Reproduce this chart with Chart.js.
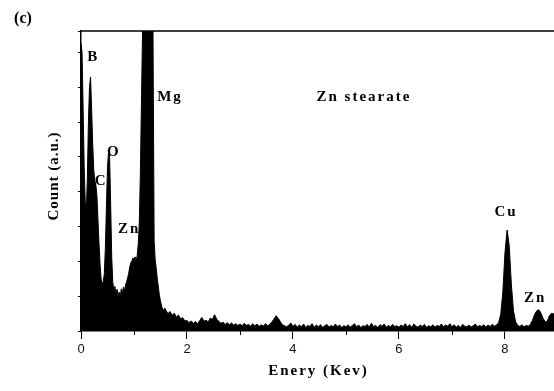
<!DOCTYPE html>
<html>
<head>
<meta charset="utf-8">
<script src="https://cdn.jsdelivr.net/npm/chart.js@4/dist/chart.umd.min.js"></script>
<style>
  html, body { margin: 0; padding: 0; background: #fff; }
  #wrap { width: 554px; height: 391px; position: relative; }
</style>
</head>
<body>
<div id="wrap"><canvas id="eds"></canvas></div>
<script>
/* ── Data ─────────────────────────────────────────────────────────────── */
// low-energy part, 0.00 … 1.58 keV every 0.02 keV
const lowStart = 0.0;
const lowStep  = 0.02;
const lowCounts = [
  826, 800, 640, 470, 370, 345, 440, 600, 700, 730,   // 0.00-0.18
  640, 540, 465, 432, 420, 390, 320, 250, 190, 150,   // 0.20-0.38
  135, 142, 165, 240, 360, 470, 515, 500, 360, 210,   // 0.40-0.58
  140, 115, 128, 104, 120,  98, 112,  96, 121, 106,   // 0.60-0.78
  126, 114, 132, 141, 152, 166, 184, 196, 201, 210,   // 0.80-0.98
  204, 213, 200, 216, 250, 310, 450, 650, 850, 1200,  // 1.00-1.18
  1800, 2400, 2800, 2900, 2800, 2500, 2100, 1500, 820, 260, // 1.20-1.38
  205, 178, 150, 126, 102,  86,  72,  63,  58,  66    // 1.40-1.58
];

// rest of the spectrum, 1.60 … 8.96 keV every 0.04 keV
const highStart = 1.60;
const highStep  = 0.04;
const highCounts = [
  60, 50, 56, 45, 51, 40, 46, 35, 38, 29,                                         // 1.60-1.96
  30, 24, 29, 22, 27, 21, 30, 39, 28, 31, 26, 37, 33, 47, 34, 28, 22, 25, 19, 24, 18, 23, 17, 21, 16, // 2.00-2.96
  20, 15, 22, 16, 19, 14, 21, 15, 20, 13, 18, 14, 21, 15, 19, 26, 34, 44, 37, 27, 18, 15, 12, 17, 23, // 3.00-3.96
  13, 19, 11, 17, 12, 20, 10, 16, 13, 21, 11, 17, 12, 18, 10, 15, 19, 11, 16, 12, 20, 13, 17, 10, 15, // 4.00-4.96
  12, 18, 11, 16, 21, 12, 17, 10, 15, 13, 19, 11, 22, 13, 16, 10, 18, 14, 20, 11, 16, 12, 19, 13, 15, // 5.00-5.96
  11, 17, 13, 21, 12, 18, 10, 20, 14, 11, 17, 13, 19, 10, 15, 12, 18, 11, 16, 13, 20, 12, 17, 14, 21, // 6.00-6.96
  12, 18, 11, 16, 10, 19, 14, 12, 17, 11, 15, 20, 12, 16, 13, 18, 11, 17, 13, 19, 14, 17, 24, 48, 112, // 7.00-7.96
  225, 290, 245, 135, 58, 27, 16, 13, 18, 12, 16, 14, 19, 31, 48, 58, 61, 51, 36, 26, 29, 44, 51, 49, 46 // 8.00-8.96
];

const xMax = 8.925;
const yMax = 862;
const xTicks = [0, 2, 4, 6, 8];
const minorTicks = [1, 3, 5, 7];

const peakNames    = ['B', 'C', 'O', 'Zn', 'Mg', 'Zn stearate', 'Cu', 'Zn'];
const peakEnergies = [0.21, 0.36, 0.60, 0.89, 1.66, 5.32, 8.00, 8.55];
const peakCounts   = [787, 431, 514, 293, 672, 672, 342, 95];

/* ── Build points ─────────────────────────────────────────────────────── */
const points = [];
lowCounts.forEach((c, i) => points.push({ x: +(lowStart + i * lowStep).toFixed(2), y: c }));
highCounts.forEach((c, i) => points.push({ x: +(highStart + i * highStep).toFixed(2), y: c }));

const serif = '"Liberation Serif", "Times New Roman", serif';

/* ── Extra drawing: frame top, minor ticks, labels ───────────────────── */
const decorPlugin = {
  id: 'decor',
  afterDraw(chart) {
    const { ctx, chartArea, scales: { x, y } } = chart;
    ctx.save();
    ctx.strokeStyle = '#000';
    ctx.lineWidth = 1.5;
    ctx.beginPath();
    ctx.moveTo(chartArea.left, chartArea.top);
    ctx.lineTo(chartArea.right, chartArea.top);
    ctx.stroke();

    ctx.lineWidth = 1;
    ctx.beginPath();
    minorTicks.forEach(v => {
      const px = Math.round(x.getPixelForValue(v)) + 0.5;
      ctx.moveTo(px, chartArea.bottom);
      ctx.lineTo(px, chartArea.bottom + 4);
    });
    ctx.stroke();

    ctx.fillStyle = '#000';
    ctx.textAlign = 'center';
    ctx.textBaseline = 'middle';
    ctx.font = 'bold 15px ' + serif;
    ctx.letterSpacing = '2px';
    peakNames.forEach((t, i) => {
      ctx.fillText(t, x.getPixelForValue(peakEnergies[i]) + 1, y.getPixelForValue(peakCounts[i]));
    });

    // axis titles
    ctx.fillText('Enery (Kev)', (chartArea.left + chartArea.right) / 2 + 1, 371);
    ctx.letterSpacing = '1px';
    ctx.save();
    ctx.translate(54, 176);
    ctx.rotate(-Math.PI / 2);
    ctx.fillText('Count (a.u.)', 0, 0);
    ctx.restore();

    ctx.letterSpacing = '0px';
    ctx.font = 'bold 16px ' + serif;
    ctx.fillText('(c)', 23, 19);
    ctx.restore();
  }
};

/* ── Chart ────────────────────────────────────────────────────────────── */
new Chart(document.getElementById('eds'), {
  type: 'line',
  data: {
    datasets: [{
      data: points,
      borderColor: '#000',
      backgroundColor: '#000',
      borderWidth: 1,
      pointRadius: 0,
      tension: 0,
      fill: 'origin',
      clip: 0
    }]
  },
  options: {
    responsive: true,
    maintainAspectRatio: false,
    animation: false,
    devicePixelRatio: 1,
    layout: { padding: { top: 31, right: 0, left: 0, bottom: 0 } },
    plugins: { legend: { display: false }, tooltip: { enabled: false } },
    scales: {
      x: {
        type: 'linear',
        min: 0,
        max: xMax,
        afterFit: s => { s.height = 60; },
        ticks: {
          stepSize: 1,
          includeBounds: false,
          autoSkip: false,
          maxRotation: 0,
          padding: 3,
          color: '#111',
          font: { family: '"Liberation Sans", Arial, sans-serif', size: 13 },
          callback: v => xTicks.includes(v) ? String(v) : ''
        },
        grid: {
          drawOnChartArea: false,
          tickLength: 8,
          tickWidth: 1,
          tickColor: c => xTicks.includes(c.tick.value) ? '#000' : 'rgba(0,0,0,0)'
        },
        border: { display: true, color: '#000', width: 1.5 }
      },
      y: {
        min: 0,
        max: yMax,
        afterFit: s => { s.width = 81; },
        ticks: { stepSize: 100, display: false },
        grid: { drawOnChartArea: false, tickLength: 3, tickColor: '#000' },
        border: { display: true, color: '#000', width: 1.5 }
      }
    }
  },
  plugins: [decorPlugin]
});
</script>
</body>
</html>
